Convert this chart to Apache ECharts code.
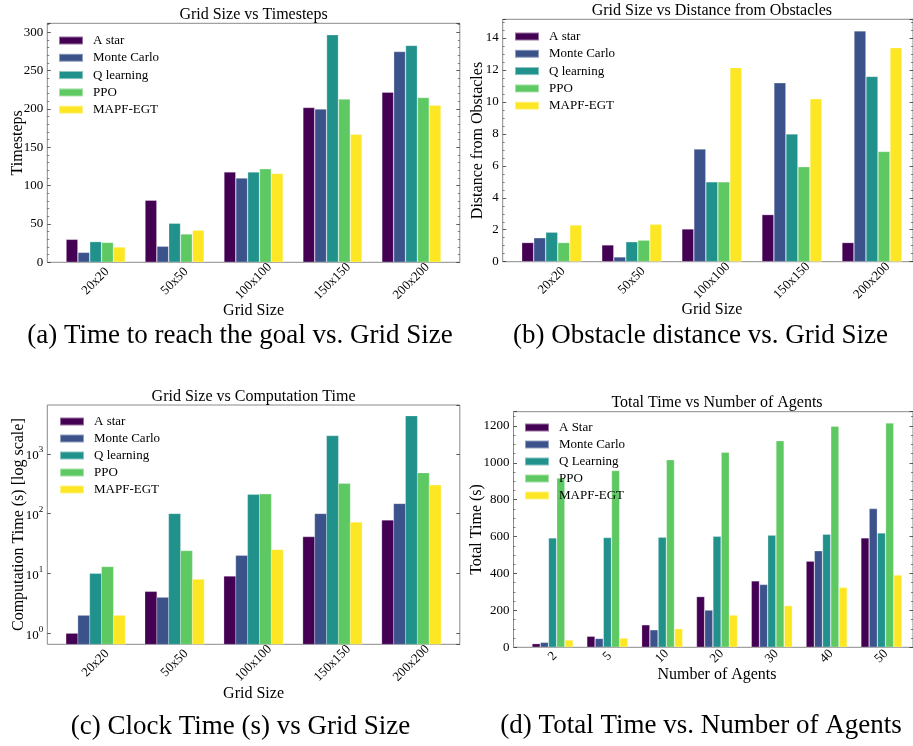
<!DOCTYPE html>
<html><head><meta charset="utf-8">
<script src="https://cdn.jsdelivr.net/npm/echarts@6/dist/echarts.min.js"></script>
<style>html,body{margin:0;padding:0;background:#fff}#c{width:913px;height:746px}</style>
</head><body><div id="c"></div>
<script>
// ---------- data ----------
const gridSizes = ['20x20', '50x50', '100x100', '150x150', '200x200'];
const agentCounts = ['2', '5', '10', '20', '30', '40', '50'];
const methodsGrid = ['A star', 'Monte Carlo', 'Q learning', 'PPO', 'MAPF-EGT'];
const methodsAgents = ['A Star', 'Monte Carlo', 'Q Learning', 'PPO', 'MAPF-EGT'];

// (a) Grid Size vs Timesteps
const stepsAStar = [30, 81, 118, 202, 222];
const stepsMonteCarlo = [13, 21, 110, 200, 275];
const stepsQLearning = [27, 51, 118, 297, 283];
const stepsPPO = [26, 37, 122, 213, 215];
const stepsMAPF = [20, 42, 116, 167, 205];

// (b) Grid Size vs Distance from Obstacles
const distAStar = [1.2, 1.05, 2.05, 2.95, 1.2];
const distMonteCarlo = [1.5, 0.3, 7.05, 11.2, 14.45];
const distQLearning = [1.85, 1.25, 5.0, 8.0, 11.6];
const distPPO = [1.2, 1.35, 5.0, 5.95, 6.9];
const distMAPF = [2.3, 2.35, 12.15, 10.2, 13.4];

// (c) Grid Size vs Computation Time (log)
const compAStar = [1, 5, 9, 41, 78];
const compMonteCarlo = [2, 4, 20, 100, 147];
const compQLearning = [10, 100, 210, 2000, 4300];
const compPPO = [13, 24, 213, 320, 480];
const compMAPF = [2, 8, 25, 72, 300];

// (d) Total Time vs Number of Agents
const totalAStar = [20, 60, 122, 275, 360, 467, 593];
const totalMonteCarlo = [27, 48, 95, 202, 341, 523, 752];
const totalQLearning = [593, 595, 597, 602, 608, 613, 620];
const totalPPO = [918, 958, 1017, 1057, 1120, 1198, 1216];
const totalMAPF = [40, 50, 101, 175, 226, 325, 392];

// ---------- style ----------
const FONT = "'Liberation Serif', serif";
const palette = ['#440154', '#3b528b', '#21918c', '#5ec962', '#fde725'];

const panels = [
  { cats: gridSizes, names: methodsGrid,
    values: [stepsAStar, stepsMonteCarlo, stepsQLearning, stepsPPO, stepsMAPF],
    rect: [47.3, 23.3, 412.5, 239], type: 'value', interval: 50, minor: 5,
    title: 'Grid Size vs Timesteps', titleY: 15,
    yName: 'Timesteps', yGap: 22, xName: 'Grid Size', xGap: 40, labelMargin: 19,
    legend: [58, 34, 4.3],
    caption: '(a) Time to reach the goal vs. Grid Size', capX: 240, capY: 336 },
  { cats: gridSizes, names: methodsGrid,
    values: [distAStar, distMonteCarlo, distQLearning, distPPO, distMAPF],
    rect: [502.7, 19.3, 418.3, 242.4], type: 'value', interval: 2, minor: 4,
    title: 'Grid Size vs Distance from Obstacles', titleY: 11,
    yName: 'Distance from Obstacles', yGap: 17, xName: 'Grid Size', xGap: 40.5, labelMargin: 19,
    legend: [514, 30, 4.3],
    caption: '(b) Obstacle distance vs. Grid Size', capX: 700.5, capY: 336 },
  { cats: gridSizes, names: methodsGrid,
    values: [compAStar, compMonteCarlo, compQLearning, compPPO, compMAPF],
    rect: [47.3, 405, 412.5, 239.3], type: 'log',
    title: 'Grid Size vs Computation Time', titleY: 396.7,
    yName: 'Computation Time (s) [log scale]', yGap: 21, xName: 'Grid Size', xGap: 41, labelMargin: 19,
    legend: [59, 415, 4],
    caption: '(c) Clock Time (s) vs Grid Size', capX: 240.5, capY: 727 },
  { cats: agentCounts, names: methodsAgents,
    values: [totalAStar, totalMonteCarlo, totalQLearning, totalPPO, totalMAPF],
    rect: [513.5, 411.7, 407, 235.6], type: 'value', interval: 200, minor: 4,
    title: 'Total Time vs Number of Agents', titleY: 402.7,
    yName: 'Total Time (s)', yGap: 29, xName: 'Number of Agents', xGap: 19, labelMargin: 9,
    legend: [524, 421, 4],
    caption: '(d) Total Time vs. Number of Agents', capX: 701, capY: 726 }
];

const grids = [], xAxes = [], yAxes = [], series = [], legends = [], graphics = [];
const tickStyle = { color: '#333', width: 0.8 };
const legendText = { fontFamily: FONT, fontSize: 13, lineHeight: 13, color: '#000', fontWeight: 'normal', padding: [0, 0, 0, 5] };

panels.forEach((p, i) => {
  const [L, T, W, H] = p.rect;
  const n = p.cats.length;
  // matplotlib-like margins: bars span n-0.25 units, plus 5% on both sides
  const unit = W / ((n - 0.25) * 1.1);
  const inset = (0.05 * (n - 0.25) - 0.125) * unit;
  const all = [].concat(...p.values);
  const dmax = Math.max(...all);
  let ymin, ymax;
  if (p.type === 'log') {
    const lmin = Math.log10(Math.min(...all)), lmax = Math.log10(dmax);
    const m = 0.05 * (lmax - lmin);
    ymin = Math.pow(10, lmin - m); ymax = Math.pow(10, lmax + m);
  } else { ymin = 0; ymax = dmax * 1.05; }

  grids.push({ left: L, top: T, width: W, height: H, show: true,
    borderColor: '#8a8a8a', borderWidth: 1, backgroundColor: 'transparent' });
  grids.push({ left: L + inset, top: T, width: W - 2 * inset, height: H, show: false });

  // frame x (hidden)
  xAxes.push({ gridIndex: 2 * i, type: 'value', min: 0, max: 1, show: false });
  // data x bottom
  xAxes.push({ gridIndex: 2 * i + 1, type: 'category', data: p.cats,
    axisLine: { show: false },
    axisTick: { inside: true, alignWithLabel: true, length: 3.5, lineStyle: tickStyle },
    axisLabel: { interval: 0, rotate: 45, align: 'center', verticalAlign: 'middle',
      margin: p.labelMargin, fontFamily: FONT, fontSize: 13, color: '#000' },
    name: p.xName, nameLocation: 'middle', nameGap: p.xGap, nameMoveOverlap: false,
    nameTextStyle: { fontFamily: FONT, fontSize: 16, color: '#000' } });
  // data x top (ticks only)
  xAxes.push({ gridIndex: 2 * i + 1, type: 'category', data: p.cats, position: 'top',
    axisLine: { show: false }, axisLabel: { show: false },
    axisTick: { inside: true, alignWithLabel: true, length: 3.5, lineStyle: tickStyle } });

  const yBase = { type: p.type, min: ymin, max: ymax, splitLine: { show: false },
    axisLine: { show: false } };
  if (p.type === 'value') yBase.interval = p.interval;
  else yBase.logBase = 10;

  const leftY = Object.assign({}, yBase, { gridIndex: 2 * i, position: 'left',
    axisTick: { inside: true, length: 3.5, lineStyle: tickStyle },
    axisLabel: { fontFamily: FONT, fontSize: 13, color: '#000', margin: 4,
      showMaxLabel: false, showMinLabel: p.type !== 'log' },
    name: p.yName, nameLocation: 'middle', nameGap: p.yGap, nameMoveOverlap: false,
    nameTextStyle: { fontFamily: FONT, fontSize: 16, color: '#000' } });
  const rightY = Object.assign({}, yBase, { gridIndex: 2 * i, position: 'right',
    axisTick: { inside: true, length: 3.5, lineStyle: tickStyle },
    axisLabel: { show: false } });
  if (p.type === 'value') {
    leftY.axisLabel.formatter = v => String(+v.toFixed(6));
    leftY.minorTick = { show: true, splitNumber: p.minor, length: 2, lineStyle: { color: '#333', width: 0.6 } };
    rightY.minorTick = { show: true, splitNumber: p.minor, length: 2, lineStyle: { color: '#333', width: 0.6 } };
  } else {
    leftY.axisLabel.formatter = v => '{b|10}{s|' + Math.round(Math.log10(v)) + '}';
    leftY.axisLabel.rich = {
      b: { fontFamily: FONT, fontSize: 13, lineHeight: 17, verticalAlign: 'bottom', color: '#000' },
      s: { fontFamily: FONT, fontSize: 9, lineHeight: 17, verticalAlign: 'top', color: '#000' } };
  }
  yAxes.push(leftY, rightY);
  yAxes.push(Object.assign({}, yBase, { gridIndex: 2 * i + 1, show: false }));

  p.values.forEach((vals, k) => {
    const color = palette[k];
    if (p.type === 'log') {
      series.push({ type: 'custom', name: p.names[k], coordinateSystem: 'cartesian2d',
        xAxisIndex: 3 * i + 1, yAxisIndex: 3 * i + 2,
        itemStyle: { color: color }, encode: { x: 0, y: 1 },
        data: vals.map((v, j) => [j, v]),
        renderItem: (params, api) => {
          const c = api.value(0), v = api.value(1);
          const p0 = api.coord([0, ymin]), p1 = api.coord([1, ymin]);
          const band = p1[0] - p0[0];
          const top = api.coord([c, v]);
          const base = api.coord([c, ymin]);
          const w = band * 0.15;
          return { type: 'rect',
            shape: { x: top[0] - band * 0.375 + k * w, y: top[1], width: w, height: base[1] - top[1] },
            style: { fill: color, stroke: 'rgba(255,255,255,0.45)', lineWidth: 0.6 } };
        } });
    } else {
      series.push({ type: 'bar', name: p.names[k],
        xAxisIndex: 3 * i + 1, yAxisIndex: 3 * i + 2,
        barWidth: '15%', barGap: '0%',
        itemStyle: { color: color, borderColor: 'rgba(255,255,255,0.45)', borderWidth: 0.6 },
        data: vals });
    }
  });

  legends.push({ left: p.legend[0], top: p.legend[1], orient: 'vertical', padding: 0,
    itemWidth: 24, itemHeight: 8, itemGap: p.legend[2], icon: 'rect', selectedMode: false,
    textStyle: Object.assign({}, legendText),
    data: p.names.map(nm => ({ name: nm, textStyle: Object.assign({}, legendText) })) });

  graphics.push({ type: 'text', x: L + W / 2, y: p.titleY,
    style: { text: p.title, fontFamily: FONT, fontSize: 16, fill: '#000', align: 'center', verticalAlign: 'middle' } });
  graphics.push({ type: 'text', x: p.capX, y: p.capY,
    style: { text: p.caption, fontFamily: FONT, fontSize: 27, fill: '#000', align: 'center', verticalAlign: 'middle' } });
});

const chart = echarts.init(document.getElementById('c'), null, { renderer: 'canvas' });
chart.setOption({
  animation: false,
  backgroundColor: '#fff',
  color: palette,
  textStyle: { fontFamily: FONT },
  grid: grids, xAxis: xAxes, yAxis: yAxes,
  legend: legends, series: series, graphic: graphics
});
</script></body></html>
